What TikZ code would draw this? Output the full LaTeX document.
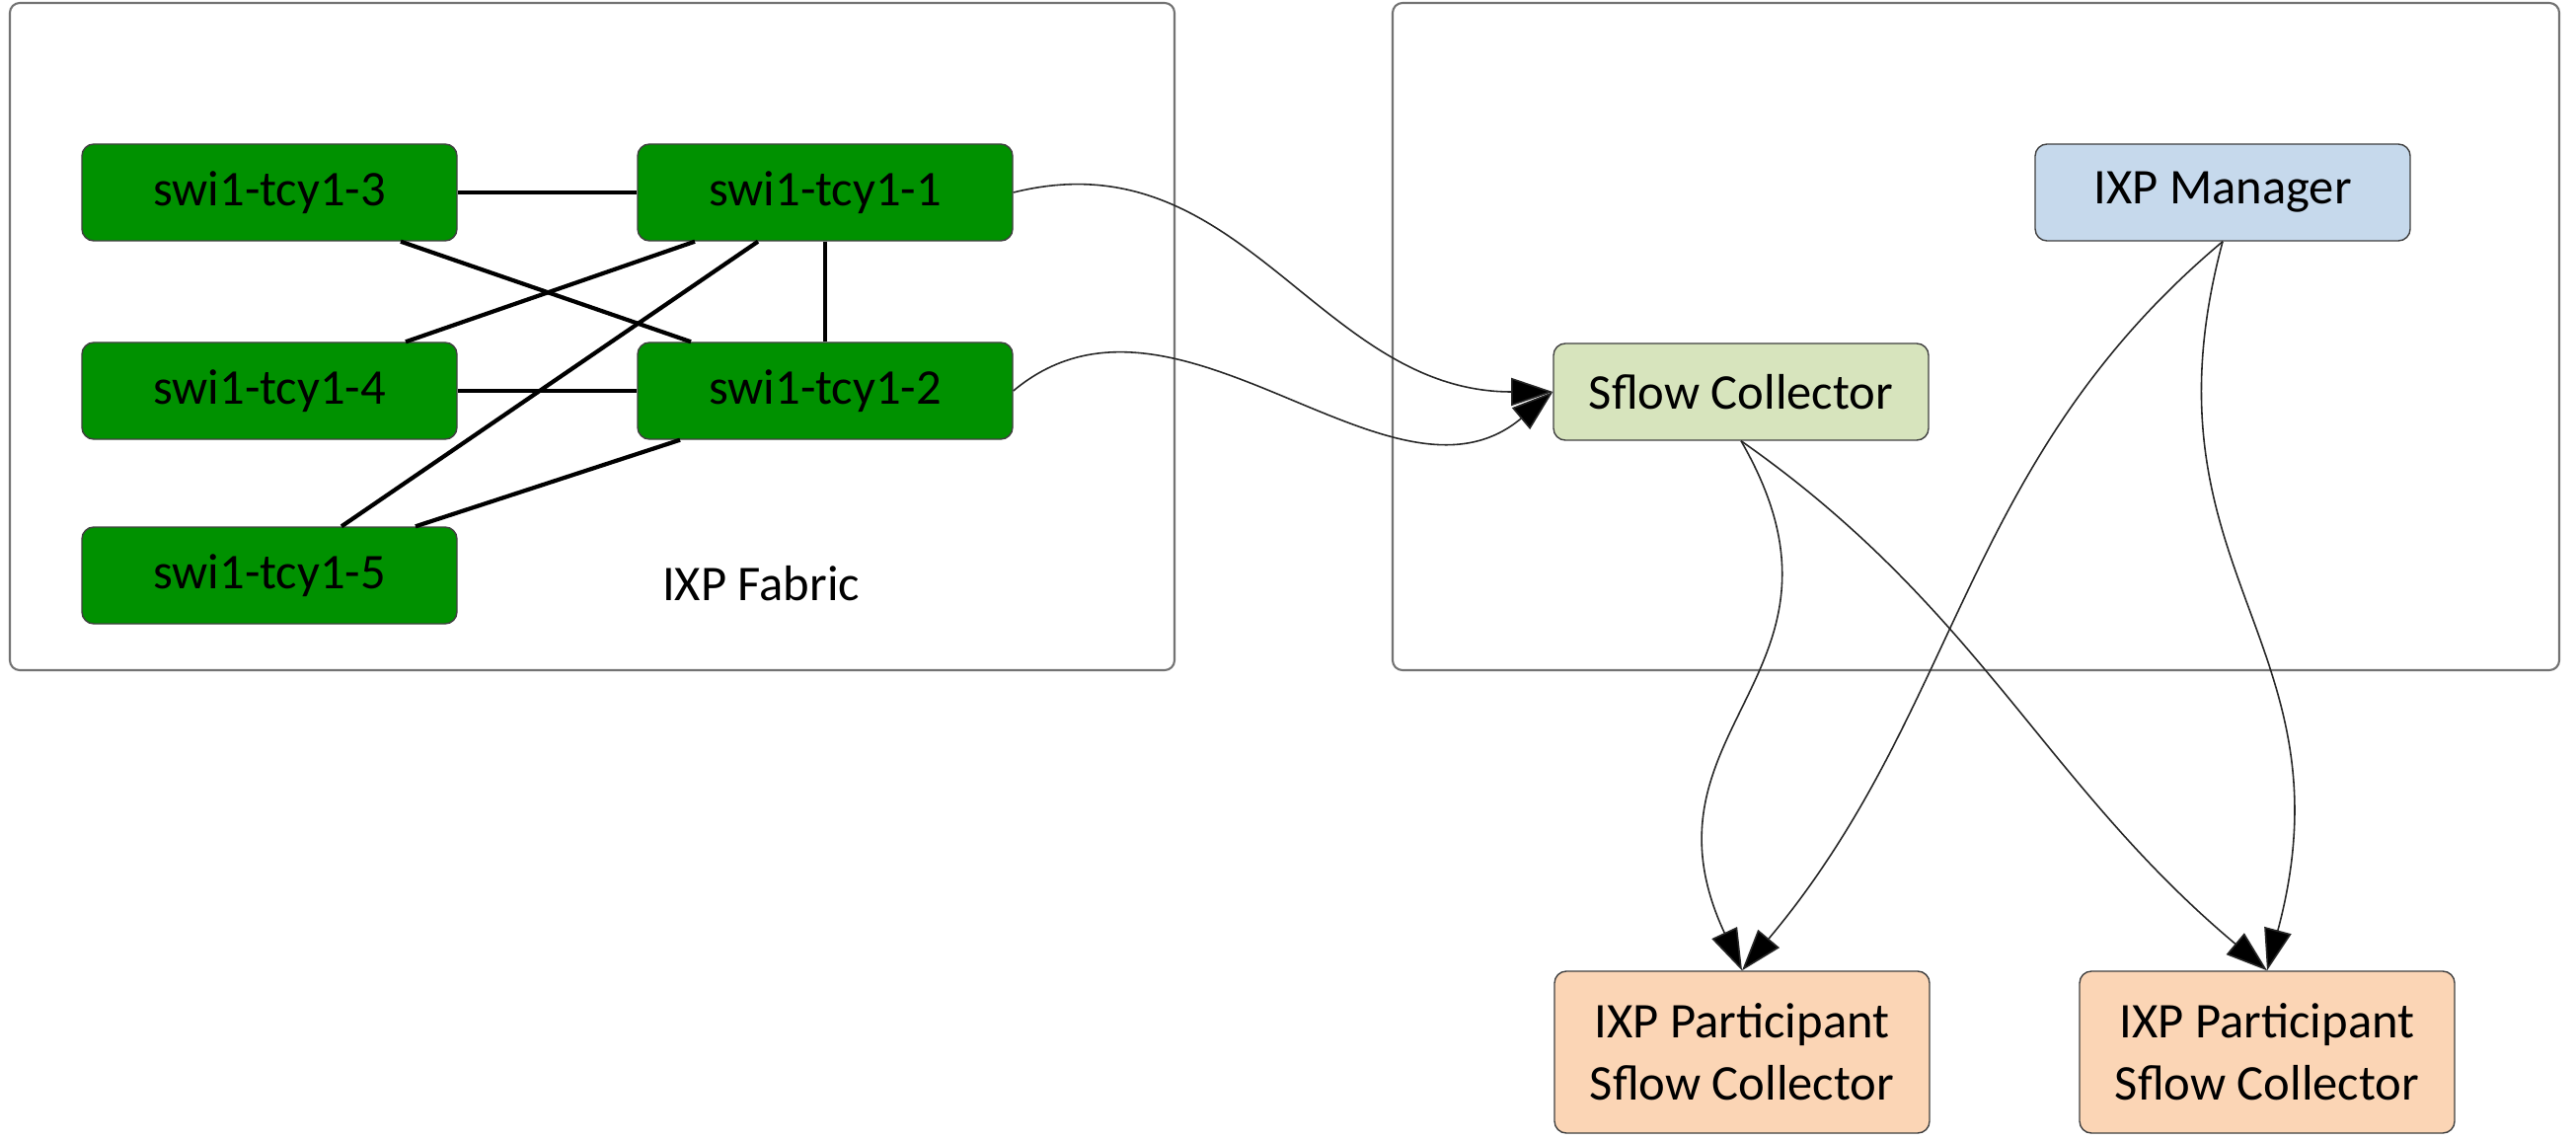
\documentclass[tikz,border=0pt]{standalone}
\usepackage{fontspec}
\setmainfont{Carlito}
\usetikzlibrary{arrows.meta}
\definecolor{swigreen}{RGB}{0,145,0}
\definecolor{mgrblue}{RGB}{198,217,236}
\definecolor{sflowgreen}{RGB}{215,228,189}
\definecolor{peach}{RGB}{251,213,181}

\begin{document}
\begin{tikzpicture}[
    box/.style={draw=black!75, rounded corners=1.2mm, minimum width=3.8cm, minimum height=0.98cm, align=center, inner sep=0pt, font=\fontsize{14.4}{18}\selectfont},
    swi/.style={box, fill=swigreen},
    link/.style={line width=1.2pt},
    flow/.style={line width=0.45pt, draw=black!85, -{Triangle[length=12pt,width=8pt,fill=black]}},
    area/.style={draw=black!55, line width=0.6pt, rounded corners=1mm}
  ]
    \useasboundingbox (0,0) rectangle (26.1,-11.55);
    \draw[area] (0.10,-0.03) rectangle (11.90,-6.79);
    \draw[area] (14.11,-0.03) rectangle (25.93,-6.79);

    % fabric
    \node[swi] (swi3) at (2.73,-1.95) {swi1-tcy1-3};
    \node[swi] (swi1) at (8.36,-1.95) {swi1-tcy1-1};
    \node[swi] (swi4) at (2.73,-3.96) {swi1-tcy1-4};
    \node[swi] (swi2) at (8.36,-3.96) {swi1-tcy1-2};
    \node[swi] (swi5) at (2.73,-5.83) {swi1-tcy1-5};
    \node[font=\fontsize{14.4}{18}\selectfont] (fabric) at (7.71,-5.91) {IXP Fabric};

    \draw[link] (swi3) -- (swi1);
    \draw[link] (swi4) -- (swi2);
    \draw[link] (swi1) -- (swi2);
    \draw[link] ([xshift=1.33cm]swi3.south) -- ([xshift=-1.36cm]swi2.north);
    \draw[link] ([xshift=1.38cm]swi4.north) -- ([xshift=-1.32cm]swi1.south);
    \draw[link] ([xshift=0.73cm]swi5.north) -- ([xshift=-0.68cm]swi1.south);
    \draw[link] ([xshift=1.48cm]swi5.north) -- ([xshift=-1.47cm]swi2.south);

    % collectors
    \node[box, fill=mgrblue] (manager) at (22.52,-1.95) {IXP Manager};
    \node[box, fill=sflowgreen] (sflow) at (17.64,-3.97) {Sflow Collector};
    \node[box, fill=peach, minimum height=1.64cm] (part1) at (17.65,-10.66) {IXP Participant\\Sflow Collector};
    \node[box, fill=peach, minimum height=1.64cm] (part2) at (22.97,-10.66) {IXP Participant\\Sflow Collector};

    \draw[flow] (swi1.east) to[out=14, in=180, looseness=1.05] (sflow.west);
    \draw[flow] (swi2.east) to[out=40, in=220] (sflow.west);
    \draw[flow] (sflow.south) to[out=-60, in=115, looseness=1.3] (part1.north);
    \draw[flow] (sflow.south) to[out=-35, in=140] (part2.north);
    \draw[flow] (manager.south) to[out=-140, in=50] (part1.north);
    \draw[flow] (manager.south) to[out=-105, in=75, looseness=1.2] (part2.north);
\end{tikzpicture}
\end{document}
